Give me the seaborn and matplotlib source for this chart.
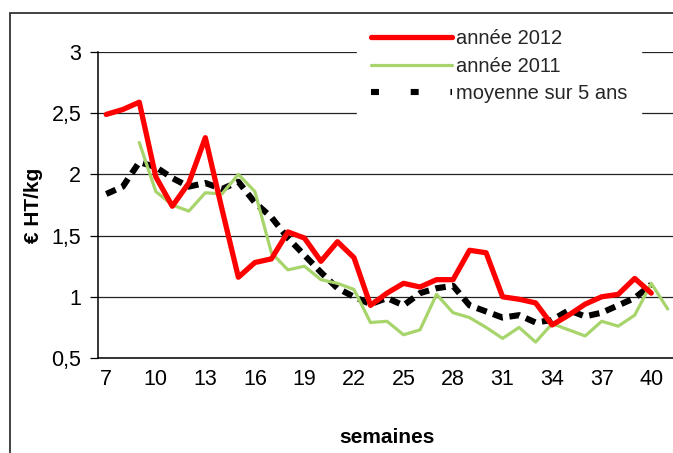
import numpy as np
import pandas as pd
import matplotlib
matplotlib.use("Agg")
import matplotlib.pyplot as plt
import seaborn as sns
from matplotlib.lines import Line2D
from matplotlib.patches import Rectangle
from matplotlib.ticker import FuncFormatter, MultipleLocator

# weeks 7..41
weeks = list(range(7, 42))
nan = np.nan

prix_2012 = [2.49, 2.53, 2.59, 1.98, 1.74, 1.93, 2.30, 1.72, 1.16, 1.28,
             1.31, 1.53, 1.48, 1.29, 1.45, 1.32, 0.93, 1.03, 1.11, 1.08,
             1.14, 1.14, 1.38, 1.36, 1.00, 0.98, 0.95, 0.77, 0.85, 0.94,
             1.00, 1.02, 1.15, 1.03, nan]
prix_2011 = [nan, nan, 2.26, 1.86, 1.75, 1.70, 1.85, 1.84, 2.00, 1.86,
             1.36, 1.22, 1.25, 1.14, 1.11, 1.06, 0.79, 0.80, 0.69, 0.73,
             1.02, 0.87, 0.83, 0.75, 0.66, 0.75, 0.63, 0.78, 0.73, 0.68,
             0.80, 0.76, 0.85, 1.11, 0.90]
moyenne_5ans = [1.84, 1.90, 2.10, 2.06, 1.97, 1.90, 1.93, 1.88, 1.94, 1.77,
                1.65, 1.48, 1.34, 1.20, 1.07, 1.00, 0.94, 0.99, 0.93, 1.03,
                1.07, 1.09, 0.93, 0.88, 0.83, 0.85, 0.79, 0.81, 0.89, 0.84,
                0.87, 0.93, 0.99, 1.10, nan]

labels = ["année 2012", "année 2011", "moyenne sur 5 ans"]
tick_weeks = list(range(7, 42, 3))

df = pd.DataFrame({"semaine": weeks, "2012": prix_2012,
                   "2011": prix_2011, "moy": moyenne_5ans})

sns.set_theme(style="white")
plt.rcParams['font.family'] = ['Liberation Sans', 'DejaVu Sans']

W, H = 673, 453
fig = plt.figure(figsize=(W / 100, H / 100), dpi=100)
ax = fig.add_axes([98 / W, 95 / H, 578 / W, 306 / H])

red = "#FF0000"
green = "#A8D46C"
dash = (0, (1.7, 1.1))

d = df.dropna(subset=["moy"])
sns.lineplot(data=d, x="semaine", y="moy", ax=ax, color="black", lw=4.4,
             linestyle=dash, estimator=None, zorder=3)
d = df.dropna(subset=["2011"])
sns.lineplot(data=d, x="semaine", y="2011", ax=ax, color=green, lw=2.3,
             estimator=None, zorder=4)
d = df.dropna(subset=["2012"])
sns.lineplot(data=d, x="semaine", y="2012", ax=ax, color=red, lw=3.8,
             estimator=None, zorder=5)

ax.set_xlim(6.5, 41.5)
ax.set_ylim(0.5, 3)
ax.yaxis.set_major_locator(MultipleLocator(0.5))
ax.yaxis.set_major_formatter(FuncFormatter(lambda v, p: f"{v:g}".replace(".", ",")))
ax.set_xticks(tick_weeks)
ax.set_xticklabels([str(w) for w in tick_weeks])
ax.set_xticks(np.arange(6.5, 42, 1), minor=True)
ax.tick_params(axis="x", which="major", length=0, pad=8, labelsize=15.5, colors="black")
ax.tick_params(axis="x", which="minor", length=6, width=0.9, color="black", direction="out")
ax.tick_params(axis="y", length=6, width=0.9, color="black", direction="out",
               left=True, pad=6, labelsize=15.5, labelcolor="black")
ax.grid(axis="y", color="#222222", lw=0.9, zorder=1)
ax.grid(axis="x", visible=False)
for s in ["top", "right"]:
    ax.spines[s].set_visible(False)
for s in ["left", "bottom"]:
    ax.spines[s].set_color("black")
    ax.spines[s].set_linewidth(1.1)

ax.set_xlabel("semaines", fontsize=15, fontweight="bold", labelpad=27, color="black")
ax.set_ylabel("€ HT/kg", fontsize=15, fontweight="bold", labelpad=6, color="black")

handles = [Line2D([], [], color=red, lw=3.8),
           Line2D([], [], color=green, lw=2.3),
           Line2D([], [], color="black", lw=4.4, linestyle=(0, (1.3, 5.2)))]
leg = fig.legend(handles, labels, loc="upper left", bbox_to_anchor=(357 / W, 1 - 15 / H),
                 fontsize=14.5, frameon=True, framealpha=1, facecolor="white",
                 edgecolor="white", handlelength=4.0, handletextpad=0.2,
                 labelspacing=0.42, borderpad=0.7, borderaxespad=0)
leg.set_zorder(10)

# outer chart frame (cut by the image edge)
fig.patches.append(Rectangle((10 / W, -0.1), 2, 1 - 13 / H + 0.1, transform=fig.transFigure,
                             fill=False, edgecolor="#333333", lw=1.3, zorder=0))

fig.savefig("out.png", dpi=100)
